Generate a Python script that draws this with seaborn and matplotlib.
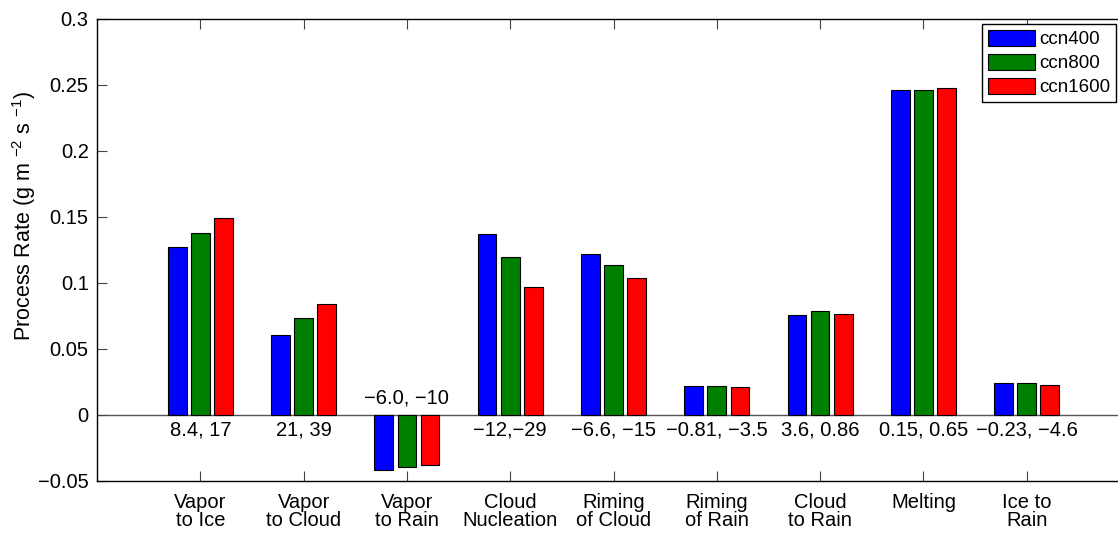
import matplotlib
matplotlib.use("Agg")
import matplotlib.pyplot as plt
import seaborn as sns
import pandas as pd
import numpy as np

categories = ["Vapor\nto Ice", "Vapor\nto Cloud", "Vapor\nto Rain", "Cloud\nNucleation",
              "Riming\nof Cloud", "Riming\nof Rain", "Cloud\nto Rain", "Melting", "Ice to\nRain"]
series_names = ["ccn400", "ccn800", "ccn1600"]
ccn400 = [0.127, 0.0605, -0.0415, 0.137, 0.122, 0.022, 0.0757, 0.246, 0.024]
ccn800 = [0.138, 0.0733, -0.0395, 0.1195, 0.1138, 0.0218, 0.0785, 0.2465, 0.0239]
ccn1600 = [0.149, 0.084, -0.0375, 0.097, 0.1035, 0.0211, 0.0762, 0.2475, 0.0229]
annotations = ["8.4, 17", "21, 39", "\u22126.0, \u221210", "\u221212,\u221229", "\u22126.6, \u221215",
               "\u22120.81, \u22123.5", "3.6, 0.86", "0.15, 0.65", "\u22120.23, \u22124.6"]
yticks = [-0.05, 0, 0.05, 0.1, 0.15, 0.2, 0.25, 0.3]
ytick_labels = ["\u22120.05", "0", "0.05", "0.1", "0.15", "0.2", "0.25", "0.3"]
colors = ["#0000ff", "#008000", "#ff0000"]

df = pd.DataFrame({
    "category": categories * 3,
    "series": sum([[s] * len(categories) for s in series_names], []),
    "value": ccn400 + ccn800 + ccn1600,
})

sns.set_theme(style="white")
plt.rcParams["font.family"] = ["Liberation Sans", "DejaVu Sans"]
plt.rcParams["mathtext.default"] = "regular"
for k in ["text.color", "axes.labelcolor", "xtick.color", "ytick.color"]:
    plt.rcParams[k] = "black"

FS = 14.5

fig = plt.figure(figsize=(11.18, 5.34), dpi=100)
ax = fig.add_axes([97 / 1118, 53 / 534, 1033 / 1118, 462 / 534])

sns.barplot(data=df, x="category", y="value", hue="series", order=categories,
            hue_order=series_names, palette=colors, width=0.67, gap=0.19,
            edgecolor="black", linewidth=0.8, saturation=1, errorbar=None, ax=ax)

ax.axhline(0, color="#555555", lw=1.0, zorder=0.5)
ax.set_xlim(-1, 9)
ax.set_ylim(-0.05, 0.3)
ax.set_yticks(yticks)
ax.set_yticklabels(ytick_labels, fontsize=FS)
ax.set_xticks(range(len(categories)))
ax.set_xticklabels(categories, fontsize=FS, linespacing=0.95)
ax.set_xlabel("")
ax.set_ylabel(r"Process Rate (g m $^{-2}$ s $^{-1}$)", fontsize=15.5)
ax.yaxis.set_label_coords(-0.057, 0.575)

ax.tick_params(axis="both", direction="in", length=7.5, width=0.8, color="#444444",
               top=True, right=True, bottom=True, left=True)
ax.tick_params(axis="x", pad=8.5)
ax.tick_params(axis="y", pad=6)
for s in ax.spines.values():
    s.set_color("black")
    s.set_linewidth(1.0)

for i, txt in enumerate(annotations):
    if ccn400[i] < 0:
        ax.text(i, 0.0055, txt, ha="center", va="bottom", fontsize=FS)
    else:
        ax.text(i, -0.0045, txt, ha="center", va="top", fontsize=FS)

handles, labels = ax.get_legend_handles_labels()
leg = ax.legend(handles, labels, loc="upper right", bbox_to_anchor=(1116 / 1118, 1 - 24 / 534),
                bbox_transform=fig.transFigure, borderaxespad=0, fancybox=False,
                framealpha=1, edgecolor="black", fontsize=13.5, handlelength=2.5,
                handleheight=0.95, handletextpad=0.25, borderpad=0.3, labelspacing=0.3)
leg.get_frame().set_linewidth(1.0)

fig.savefig("out.png", dpi=100)
